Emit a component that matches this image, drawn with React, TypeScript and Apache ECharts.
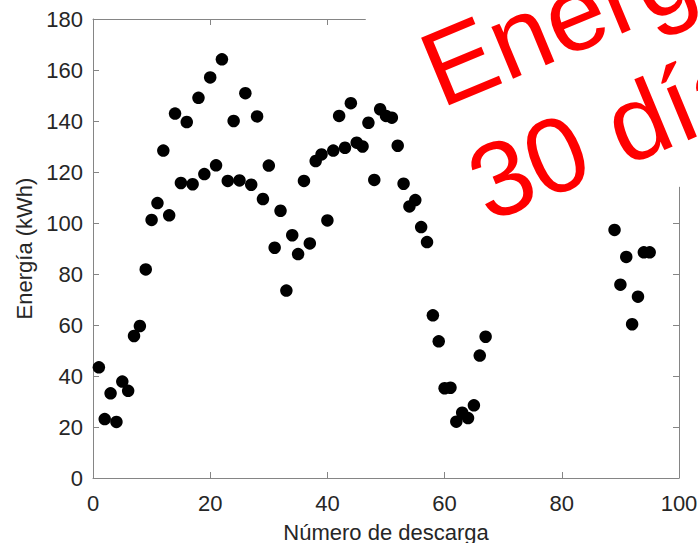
import React, { useEffect, useRef } from "react";
import * as echarts from "echarts";

const dischargeNumbers = [
  1, 2, 3, 4, 5, 6, 7, 8, 9, 10,
  11, 12, 13, 14, 15, 16, 17, 18, 19, 20,
  21, 22, 23, 24, 25, 26, 27, 28, 29, 30,
  31, 32, 33, 34, 35, 36, 37, 38, 39, 40,
  41, 42, 43, 44, 45, 46, 47, 48, 49, 50,
  51, 52, 53, 54, 55, 56, 57, 58, 59, 60,
  61, 62, 63, 64, 65, 66, 67,
  89, 90, 91, 92, 93, 94, 95,
];

const energyKWh = [
  43.4, 23.1, 33.2, 22, 37.8, 34.2, 55.7, 59.6, 81.8, 101.2,
  107.8, 128.4, 103, 142.9, 115.7, 139.6, 115.2, 149.1, 119.2, 157.1,
  122.6, 164.2, 116.5, 140, 116.7, 150.9, 115, 141.8, 109.4, 122.5,
  90.3, 104.8, 73.5, 95.2, 87.8, 116.5, 92, 124.3, 126.9, 101,
  128.4, 142, 129.5, 147, 131.5, 130, 139.3, 116.9, 144.6, 142,
  141.3, 130.3, 115.4, 106.5, 109, 98.4, 92.5, 63.8, 53.6, 35.2,
  35.4, 22.1, 25.6, 23.5, 28.5, 48, 55.4,
  97.3, 75.8, 86.7, 60.3, 71.1, 88.5, 88.5,
];

const xTitle = "Número de descarga";
const yTitle = "Energía (kWh)";
const overlayText = "Energía\n30 días";

const FONT = "'Liberation Sans', Arial, Helvetica, sans-serif";
const AXIS_COLOR = "#858585";
const LABEL_COLOR = "#262626";

export default function App() {
  const ref = useRef<HTMLDivElement>(null);

  useEffect(() => {
    if (!ref.current) return;
    const chart = echarts.init(ref.current, undefined, { renderer: "svg" });

    const axisCommon = {
      axisLine: { show: true, onZero: false, lineStyle: { color: AXIS_COLOR, width: 1 } },
      axisTick: { show: true, inside: true, length: 6, lineStyle: { color: AXIS_COLOR, width: 1 } },
      splitLine: { show: false },
    };

    const points = dischargeNumbers.map((x, i) => [x, energyKWh[i]]);

    chart.setOption({
      animation: false,
      backgroundColor: "#ffffff",
      grid: {
        left: 93,
        top: 19,
        right: 19,
        bottom: 65,
        containLabel: false,
        outerBoundsMode: "none",
      },
      xAxis: [
        {
          type: "value",
          position: "bottom",
          min: 0,
          max: 100,
          interval: 20,
          ...axisCommon,
          axisLabel: { show: true, margin: 14, color: LABEL_COLOR, fontSize: 22, fontFamily: FONT },
          name: xTitle,
          nameLocation: "middle",
          nameGap: 43,
          nameTextStyle: { color: LABEL_COLOR, fontSize: 22, fontFamily: FONT },
        },
        {
          type: "value",
          position: "top",
          min: 0,
          max: 100,
          interval: 20,
          ...axisCommon,
          axisLabel: { show: false },
        },
      ],
      yAxis: [
        {
          type: "value",
          position: "left",
          min: 0,
          max: 180,
          interval: 20,
          ...axisCommon,
          axisLabel: { show: true, margin: 10, color: LABEL_COLOR, fontSize: 22, fontFamily: FONT },
          name: yTitle,
          nameLocation: "middle",
          nameGap: 58,
          nameTextStyle: { color: LABEL_COLOR, fontSize: 22, fontFamily: FONT },
        },
        {
          type: "value",
          position: "right",
          min: 0,
          max: 180,
          interval: 20,
          ...axisCommon,
          axisLabel: { show: false },
        },
      ],
      series: [
        {
          type: "scatter",
          xAxisIndex: 0,
          yAxisIndex: 0,
          data: points,
          symbol: "circle",
          symbolSize: 12.5,
          itemStyle: { color: "#000000", opacity: 1 },
        },
      ],
      graphic: [
        {
          type: "polygon",
          z: 50,
          shape: {
            points: [
              [355.7, 0],
              [493, 266],
              [698, 179],
              [698, 0],
            ],
          },
          style: { fill: "#ffffff", stroke: null },
        },
        {
          type: "text",
          z: 51,
          x: 403,
          y: 17,
          rotation: (22.5 * Math.PI) / 180,
          style: {
            text: overlayText,
            fill: "#ff0000",
            fontSize: 106,
            lineHeight: 124,
            fontFamily: FONT,
            textAlign: "left",
            textVerticalAlign: "top",
          },
        },
      ],
    });

    return () => {
      chart.dispose();
    };
  }, []);

  return (
    <div
      ref={ref}
      style={{ position: "fixed", left: 0, top: 0, width: 698, height: 543, background: "#fff" }}
    />
  );
}
